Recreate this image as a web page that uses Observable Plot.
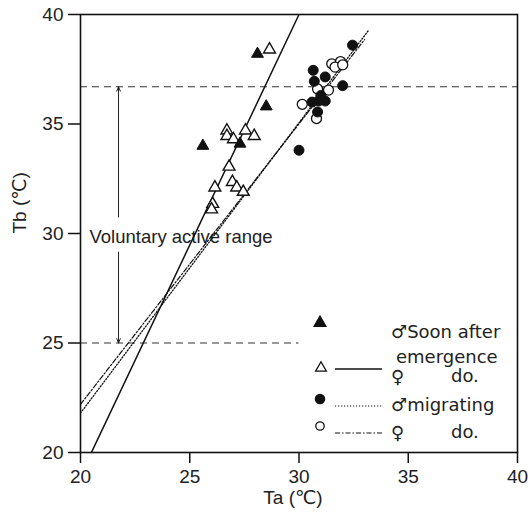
<!DOCTYPE html>
<html>
<head>
<meta charset="utf-8">
<script src="https://cdn.jsdelivr.net/npm/d3@7"></script>
<script src="https://cdn.jsdelivr.net/npm/@observablehq/plot@0.6"></script>
<style>
  html, body { margin: 0; padding: 0; background: #fff; }
</style>
</head>
<body>
<div id="chart"></div>
<script>
// ---- Data ----
// ♂ soon after emergence (filled triangles)
const maleSoonTa = [25.6, 27.3, 28.1, 28.5];
const maleSoonTb = [34.0, 34.1, 38.2, 35.8];
// ♀ soon after emergence (open triangles)
const femaleSoonTa = [28.65, 27.55, 27.95, 26.7, 26.7, 27.0, 26.8, 26.95, 27.15, 27.45, 26.15, 26.05, 26.0];
const femaleSoonTb = [38.4, 34.7, 34.45, 34.7, 34.45, 34.3, 33.05, 32.35, 32.1, 31.9, 32.1, 31.35, 31.1];
// ♂ migrating (filled circles)
const maleMigTa = [32.45, 30.65, 31.2, 30.7, 32.0, 30.6, 30.9, 31.2, 30.85, 30.0, 31.0];
const maleMigTb = [38.6, 37.45, 37.15, 36.95, 36.75, 36.0, 36.05, 36.05, 35.55, 33.8, 36.3];
// ♀ migrating (open circles)
const femaleMigTa = [31.5, 31.9, 31.65, 32.0, 31.35, 30.85, 30.15, 30.8];
const femaleMigTb = [37.75, 37.85, 37.6, 37.7, 36.55, 36.6, 35.9, 35.25];

// regression lines (end points)
const femaleSoonLineTa = [20.5, 30.0];
const femaleSoonLineTb = [20.0, 40.0];
const maleMigLineTa = [20.0, 33.2];
const maleMigLineTb = [21.8, 39.3];
const femaleMigLineTa = [20.0, 33.0];
const femaleMigLineTb = [22.2, 38.85];

// voluntary active range
const rangeTop = 36.7;
const rangeBottom = 25.0;
const rangeArrowTa = 21.74;
const rangeLowerLineEnd = 30.0;
const rangeLabel = "Voluntary active range";

const xTicks = [20, 25, 30, 35, 40];
const yTicks = [20, 25, 30, 35, 40];

const toPts = (xs, ys) => xs.map((x, i) => ({Ta: x, Tb: ys[i]}));

const W = 532, H = 516;
const font = "'Liberation Sans', 'DejaVu Sans', sans-serif";
const legendFont = "'DejaVu Sans', sans-serif";

const plot = Plot.plot({
  width: W,
  height: H,
  marginLeft: 80,
  marginRight: 15,
  marginTop: 14,
  marginBottom: 64,
  style: {fontFamily: font, fontSize: "19px", color: "#222", background: "#fff", overflow: "visible"},
  x: {domain: [20, 40]},
  y: {domain: [20, 40]},
  marks: [
    Plot.axisX({ticks: xTicks, tickSize: 11, tickPadding: 6, label: null, stroke: "#111", strokeWidth: 1.5}),
    Plot.axisY({ticks: yTicks, tickSize: 12, tickPadding: 5, label: null, stroke: "#111", strokeWidth: 1.5}),
    // dashed range lines
    Plot.ruleY([rangeTop], {x1: 20, x2: 40, stroke: "#333", strokeWidth: 1.2, strokeDasharray: "7,5"}),
    Plot.ruleY([rangeBottom], {x1: 20, x2: rangeLowerLineEnd, stroke: "#333", strokeWidth: 1.2, strokeDasharray: "7,5"}),
    // range arrows
    Plot.arrow([{y1: 30.75, y2: rangeTop}, {y1: 29.15, y2: rangeBottom}], {
      x1: () => rangeArrowTa, x2: () => rangeArrowTa, y1: "y1", y2: "y2",
      stroke: "#222", strokeWidth: 1, headLength: 7, headAngle: 45
    }),
    Plot.text([rangeLabel], {x: () => 20, y: () => 29.85, dx: 9, text: d => d, textAnchor: "start",
      fontSize: 18.5, fill: "#222"}),
    // regression lines
    Plot.line(toPts(femaleSoonLineTa, femaleSoonLineTb), {x: "Ta", y: "Tb", stroke: "#111", strokeWidth: 1.5, clip: true}),
    Plot.line(toPts(maleMigLineTa, maleMigLineTb), {x: "Ta", y: "Tb", stroke: "#111", strokeWidth: 1.3, strokeDasharray: "1.2,1.8"}),
    Plot.line(toPts(femaleMigLineTa, femaleMigLineTb), {x: "Ta", y: "Tb", stroke: "#111", strokeWidth: 1.2, strokeDasharray: "5,2,1.5,2"}),
    // points
    Plot.dot(toPts(femaleSoonTa, femaleSoonTb), {x: "Ta", y: "Tb", symbol: "triangle", r: 4.4, fill: "#fff", stroke: "#111", strokeWidth: 1.4}),
    Plot.dot(toPts(maleSoonTa, maleSoonTb), {x: "Ta", y: "Tb", symbol: "triangle", r: 4.4, fill: "#111", stroke: "#111", strokeWidth: 1}),
    Plot.dot(toPts(femaleMigTa, femaleMigTb), {x: "Ta", y: "Tb", symbol: "circle", r: 5, fill: "#fff", stroke: "#111", strokeWidth: 1.3}),
    Plot.dot(toPts(maleMigTa, maleMigTb), {x: "Ta", y: "Tb", symbol: "circle", r: 5, fill: "#111", stroke: "#111", strokeWidth: 1}),
    // axis titles
    Plot.text(["Tb (℃)"], {frameAnchor: "left", dx: -61, rotate: -90, text: d => d, fontSize: 19, fill: "#222"}),
    Plot.text(["Ta (℃)"], {frameAnchor: "bottom", dx: -6, dy: 51, text: d => d, fontSize: 19, fill: "#222"}),
    Plot.frame({stroke: "#111", strokeWidth: 1.6})
  ]
});

document.getElementById("chart").appendChild(plot);

// ---- Legend (inside the frame, lower right) ----
const svg = d3.select(plot);
const g = svg.append("g").attr("font-family", legendFont).attr("font-size", 18)
  .attr("fill", "#222").attr("text-anchor", "start");
const sym = (type, r) => d3.symbol(type, Math.PI * r * r)();
const legendItems = [
  {sym: d3.symbolTriangle, r: 4.4, fill: "#111", line: null, sx: 320, sy: 323},
  {sym: d3.symbolTriangle, r: 4.0, fill: "#fff", line: "none", sx: 321, sy: 368, ly: 369},
  {sym: d3.symbolCircle, r: 4.6, fill: "#111", line: "1.2,1.8", sx: 320, sy: 399, ly: 406},
  {sym: d3.symbolCircle, r: 4.2, fill: "#fff", line: "5,2,1.5,2", sx: 320, sy: 426, ly: 433}
];
legendItems.forEach(it => {
  g.append("path").attr("d", sym(it.sym, it.r)).attr("transform", `translate(${it.sx},${it.sy})`)
    .attr("fill", it.fill).attr("stroke", "#111").attr("stroke-width", 1.3);
  if (it.line !== null) {
    const l = g.append("line").attr("x1", 335).attr("x2", 382).attr("y1", it.ly).attr("y2", it.ly)
      .attr("stroke", "#111").attr("stroke-width", it.line === "none" ? 1.5 : 1.2);
    if (it.line !== "none") l.attr("stroke-dasharray", it.line);
  }
});
const texts = [
  {s: "♂", t: "Soon after", x: 391, y: 332},
  {s: "", t: "emergence", x: 396, y: 357},
  {s: "♀", t: "", x: 391, y: 377},
  {s: "", t: "do.", x: 451, y: 376},
  {s: "♂", t: "migrating", x: 391, y: 405},
  {s: "♀", t: "", x: 391, y: 433},
  {s: "", t: "do.", x: 451, y: 432}
];
texts.forEach(d => {
  const t = g.append("text").attr("x", d.x).attr("y", d.y).attr("dy", "0.35em");
  if (d.s) t.append("tspan").text(d.s);
  if (d.t) t.append("tspan").text(d.t);
});
</script>
</body>
</html>
